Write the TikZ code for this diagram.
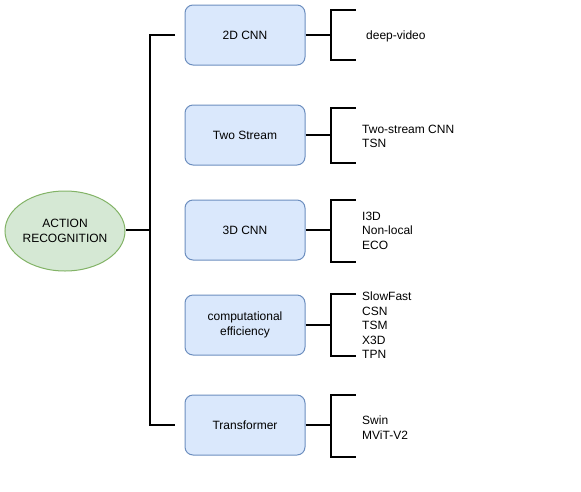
\documentclass[tikz,border=0pt]{standalone}
\usepackage{fontspec}
\setmainfont{Liberation Sans}
\usepackage{tikz}
\usetikzlibrary{positioning,shapes.geometric}
\definecolor{rootfill}{HTML}{D5E8D4}
\definecolor{rootline}{HTML}{82B366}
\definecolor{boxfill}{HTML}{DAE8FC}
\definecolor{boxline}{HTML}{6C8EBF}
\tikzset{
  root/.style={
    ellipse,
    draw=rootline,
    line width=1pt,
    fill=rootfill,
    align=center,
    minimum width=120pt,
    minimum height=80pt,
    inner sep=0pt
  },
  block/.style={
    draw=boxline,
    line width=1pt,
    fill=boxfill,
    rounded corners=8pt,
    align=center,
    minimum width=120pt,
    minimum height=60pt,
    inner sep=2pt
  },
  brace/.style={line width=2pt, draw=black},
  itemlist/.style={anchor=west, align=left, inner sep=0pt}
}

\begin{document}
\begin{tikzpicture}[x=1pt, y=-1pt, font=\fontsize{12}{14.5}\selectfont]
\useasboundingbox (0,0) rectangle (581,491);

\node[root] (root) at (65,231) {ACTION\\RECOGNITION};

\node[block] (cnn2d) at (245,35) {2D CNN};
\node[block] (twostream) at (245,135) {Two Stream};
\node[block] (cnn3d) at (245,230) {3D CNN};
\node[block] (effic) at (245,325) {computational\\efficiency};
\node[block] (trans) at (245,425) {Transformer};

\node[itemlist] (l2d) at (366,36) {deep-video};
\node[itemlist] (lts) at (362,136.5) {Two-stream CNN\\TSN};
\node[itemlist] (l3d) at (362,230.5) {I3D\\Non-local\\ECO};
\node[itemlist] (leff) at (362,325.5) {SlowFast\\CSN\\TSM\\X3D\\TPN};
\node[itemlist] (ltr) at (362,427.5) {Swin\\MViT-V2};

% main bracket
\coordinate (spinetop) at (175,35);
\coordinate (spinebot) at (175,425);
\coordinate (spinemid) at (150,230);
\draw[brace] (root.east |- spinemid) -- (spinemid);
\draw[brace] (spinetop) -- (150,35) -- (150,425) -- (spinebot);

% sub brackets
\draw[brace] (cnn2d.east) -- ++(25,0);
\draw[brace] ([shift={(50,-25)}]cnn2d.east) -- ++(-25,0) -- ++(0,50) -- ++(25,0);
\draw[brace] (twostream.east) -- ++(25,0);
\draw[brace] ([shift={(50,-27.5)}]twostream.east) -- ++(-25,0) -- ++(0,55) -- ++(25,0);
\draw[brace] (cnn3d.east) -- ++(25,0);
\draw[brace] ([shift={(50,-30.5)}]cnn3d.east) -- ++(-25,0) -- ++(0,62) -- ++(25,0);
\draw[brace] (effic.east) -- ++(25,0);
\draw[brace] ([shift={(50,-31.5)}]effic.east) -- ++(-25,0) -- ++(0,62) -- ++(25,0);
\draw[brace] (trans.east) -- ++(25,0);
\draw[brace] ([shift={(50,-30)}]trans.east) -- ++(-25,0) -- ++(0,62) -- ++(25,0);
\end{tikzpicture}
\end{document}
